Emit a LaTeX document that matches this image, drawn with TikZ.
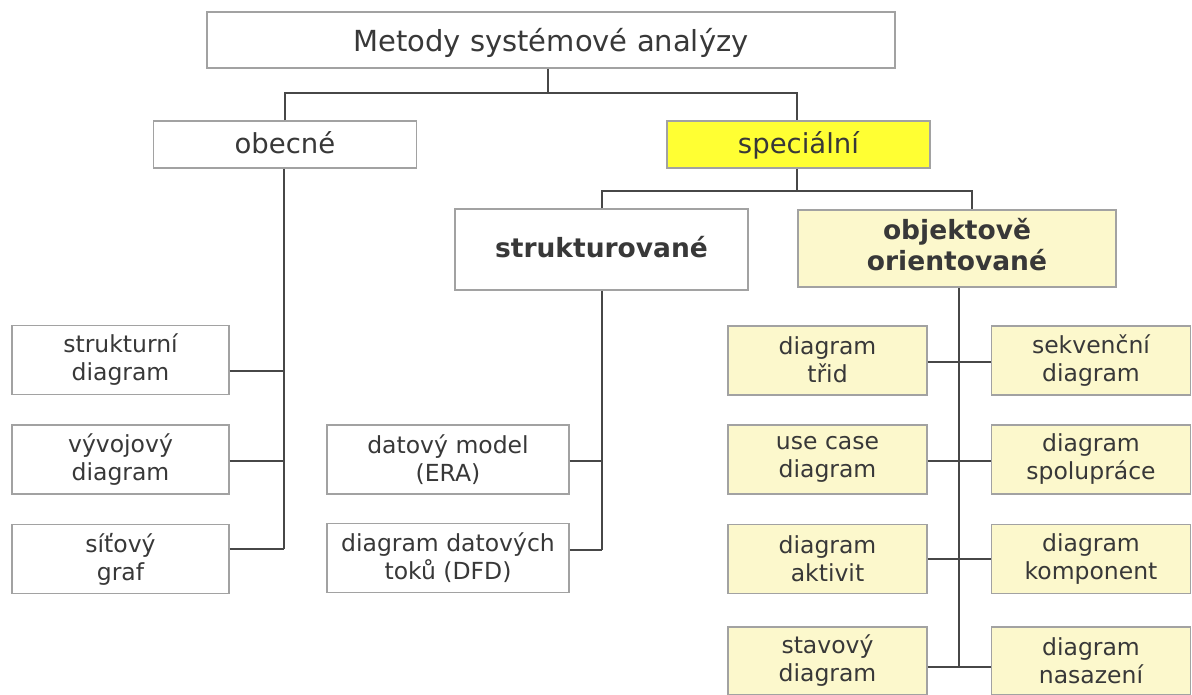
\documentclass[tikz,border=0pt]{standalone}
\usepackage{fontspec}
\setmainfont{DejaVu Sans}
\definecolor{txt}{HTML}{383838}
\definecolor{wire}{HTML}{474747}
\definecolor{frame}{HTML}{A2A2A2}
\definecolor{hot}{HTML}{FFFF33}
\definecolor{pale}{HTML}{FCF8CC}
\tikzset{
  box/.style={draw=frame, line width=1.4pt, fill=white, text=txt, inner sep=0pt,
              align=center, rectangle},
  twoline/.style 2 args={execute at begin node={\rule{0pt}{#1}},
                         execute at end node={\rule[-#2]{0pt}{#2}}},
  leaf/.style={box, minimum height=69pt, font=\fontsize{23.5}{28}\selectfont,
               twoline={22pt}{1pt}},
  oleaf/.style={leaf, fill=pale, minimum width=199pt},
  wirestyle/.style={draw=wire, line width=2pt}
}
\begin{document}
\begin{tikzpicture}[x=1pt, y=-1pt]
\useasboundingbox[fill=white] (0,0) rectangle (1192,695);

% upper levels
\node[box, minimum width=688pt, minimum height=56pt, text height=30pt, text depth=6pt,
      font=\fontsize{29}{34}\selectfont] (top) at (551,40) {Metody systémové analýzy};
\node[box, minimum width=263pt, minimum height=47pt, text height=25pt, text depth=6pt,
      font=\fontsize{27.5}{32}\selectfont] (obec) at (285,144.5) {obecné};
\node[box, fill=hot, minimum width=263pt, minimum height=47pt, text height=25pt, text depth=6pt,
      font=\fontsize{27.5}{32}\selectfont] (spec) at (798.5,144.5) {speciální};
\node[box, minimum width=293pt, minimum height=81pt, text height=23pt, text depth=6pt,
      font=\bfseries\fontsize{26.5}{32}\selectfont] (strukt) at (601.5,249.5) {strukturované};
\node[box, fill=pale, minimum width=318pt, minimum height=77pt, twoline={22pt}{8pt},
      font=\bfseries\fontsize{26.5}{31}\selectfont] (objekt) at (957,248.5) {objektově\\orientované};

% general methods
\node[leaf, minimum width=217pt] (sd) at (120.5,360) {strukturní\\diagram};
\node[leaf, minimum width=217pt] (vd) at (120.5,459.5) {vývojový\\diagram};
\node[leaf, minimum width=217pt] (sg) at (120.5,559) {síťový\\graf};

% structured methods
\node[leaf, minimum width=242pt] (era) at (448,459.5) {datový model\\(ERA)};
\node[leaf, minimum width=242pt] (dfd) at (448,558) {diagram datových\\toků (DFD)};

% object oriented methods
\node[oleaf] (o1) at (827.5,360.5) {diagram\\třid};
\node[oleaf] (o2) at (827.5,459.5) {use case\\diagram};
\node[oleaf] (o3) at (827.5,559) {diagram\\aktivit};
\node[oleaf, minimum height=68pt] (o4) at (827.5,661) {stavový\\diagram};
\node[oleaf] (p1) at (1091,360.5) {sekvenční\\diagram};
\node[oleaf] (p2) at (1091,459.5) {diagram\\spolupráce};
\node[oleaf] (p3) at (1091,559) {diagram\\komponent};
\node[oleaf, minimum height=68pt] (p4) at (1091,661) {diagram\\nasazení};

% connectors
\coordinate (busA) at (548,93);
\coordinate (busB) at (797,191);
\coordinate (spineO) at (284,0);
\coordinate (spineS) at (602,0);
\coordinate (spineP) at (959,0);

\draw[wirestyle] (top.south -| busA) -- (busA);
\draw[wirestyle] (obec.north) |- (busA) -| (spec.north -| busB);
\draw[wirestyle] (spec.south -| busB) -- (busB);
\draw[wirestyle] (strukt.north -| spineS) |- (busB) -| (objekt.north -| 972,0);

\draw[wirestyle] (obec.south -| spineO) -- (spineO |- 0,549);
\draw[wirestyle] (sd.east |- 0,371) -- (spineO |- 0,371);
\draw[wirestyle] (vd.east |- 0,461) -- (spineO |- 0,461);
\draw[wirestyle] (sg.east |- 0,549) -- (spineO |- 0,549);

\draw[wirestyle] (strukt.south -| spineS) -- (spineS |- 0,550);
\draw[wirestyle] (era.east |- 0,461) -- (spineS |- 0,461);
\draw[wirestyle] (dfd.east |- 0,550) -- (spineS |- 0,550);

\draw[wirestyle] (objekt.south -| spineP) -- (spineP |- 0,667);
\draw[wirestyle] (o1.east |- 0,362) -- (p1.west |- 0,362);
\draw[wirestyle] (o2.east |- 0,461) -- (p2.west |- 0,461);
\draw[wirestyle] (o3.east |- 0,559) -- (p3.west |- 0,559);
\draw[wirestyle] (o4.east |- 0,667) -- (p4.west |- 0,667);
\end{tikzpicture}
\end{document}
